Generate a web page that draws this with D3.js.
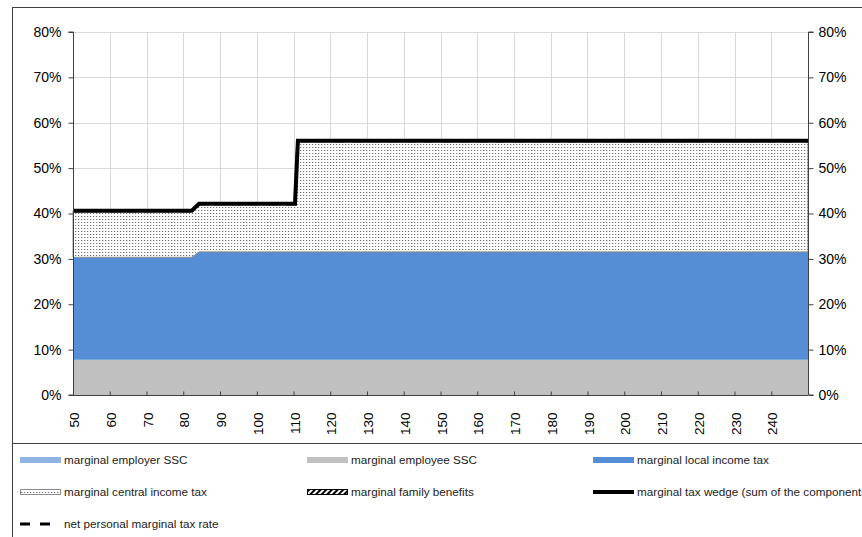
<!DOCTYPE html>
<html><head><meta charset="utf-8">
<script src="https://cdn.jsdelivr.net/npm/d3@7"></script>
<style>body{margin:0;background:#fff;}svg{display:block;font-family:"Liberation Sans",Arial,sans-serif;}</style>
</head><body>
<svg id="c" width="862" height="537"></svg>
<script>
// Data (percent) at income levels (% of average wage)
const income          = [50, 82.3, 84.3, 110.4, 111.2, 250];
const employerSSC     = [0, 0, 0, 0, 0, 0];
const employeeSSC     = [7.75, 7.75, 7.75, 7.75, 7.75, 7.75];
const localIncomeTax  = [22.6, 22.6, 23.8, 23.8, 23.8, 23.8];
const centralIncomeTax= [10.25, 10.25, 10.6, 10.6, 24.5, 24.5];
const familyBenefits  = [0, 0, 0, 0, 0, 0];
const taxWedge        = [40.6, 40.6, 42.15, 42.15, 56.05, 56.05];
const netPersonal     = [40.6, 40.6, 42.15, 42.15, 56.05, 56.05];
const xTicks = [50,60,70,80,90,100,110,120,130,140,150,160,170,180,190,200,210,220,230,240];
const yTicks = [0,10,20,30,40,50,60,70,80];
const legendLabels = ["marginal employer SSC","marginal employee SSC","marginal local income tax",
  "marginal central income tax","marginal family benefits","marginal tax wedge (sum of the components)",
  "net personal marginal tax rate"];

const svg = d3.select("#c");
const x = d3.scaleLinear().domain([50,250]).range([73,808]);
const y = d3.scaleLinear().domain([0,80]).range([395,32]);

const defs = svg.append("defs");
const pat = defs.append("pattern").attr("id","dots").attr("patternUnits","userSpaceOnUse")
  .attr("width",3).attr("height",3);
pat.append("rect").attr("width",3).attr("height",3).attr("fill","#fff");
pat.append("rect").attr("x",0).attr("y",0).attr("width",1).attr("height",1).attr("fill","#777");
pat.append("rect").attr("x",1).attr("y",0).attr("width",1).attr("height",1).attr("fill","#ddd");
const hatch = defs.append("pattern").attr("id","hatch").attr("patternUnits","userSpaceOnUse")
  .attr("width",4).attr("height",4).attr("patternTransform","rotate(45)");
hatch.append("rect").attr("width",4).attr("height",4).attr("fill","#fff");
hatch.append("rect").attr("width",2).attr("height",4).attr("fill","#000");

// frame
svg.append("line").attr("x1",12).attr("x2",862).attr("y1",7.5).attr("y2",7.5).attr("stroke","#404040");
svg.append("line").attr("x1",12.5).attr("x2",12.5).attr("y1",7).attr("y2",537).attr("stroke","#404040");
svg.append("line").attr("x1",12).attr("x2",862).attr("y1",443.5).attr("y2",443.5).attr("stroke","#404040");

// gridlines
const g = svg.append("g");
g.selectAll(".vg").data(xTicks.slice(1)).enter().append("line")
  .attr("x1",d=>Math.round(x(d))+0.5).attr("x2",d=>Math.round(x(d))+0.5)
  .attr("y1",y(80)).attr("y2",y(0)).attr("stroke","#d9d9d9");
g.selectAll(".hg").data(yTicks.slice(1)).enter().append("line")
  .attr("x1",x(50)).attr("x2",x(250)).attr("y1",d=>Math.round(y(d))+0.5).attr("y2",d=>Math.round(y(d))+0.5)
  .attr("stroke","#d9d9d9");

// stacked areas
const rows = income.map((v,i)=>({inc:v, employer:employerSSC[i], employee:employeeSSC[i],
  local:localIncomeTax[i], central:centralIncomeTax[i], family:familyBenefits[i]}));
const keys = ["employer","employee","local","central","family"];
const stack = d3.stack().keys(keys)(rows);
const fills = {employer:"#8eb4e3", employee:"#c0c0c0", local:"#558ed5", central:"url(#dots)", family:"url(#hatch)"};
const area = d3.area().x(d=>x(d.data.inc)).y0(d=>y(d[0])).y1(d=>y(d[1]));
stack.forEach(s=>{
  const tot = d3.sum(s,d=>d[1]-d[0]);
  if(tot<=0) return;
  svg.append("path").datum(s).attr("d",area).attr("fill",fills[s.key])
    .attr("stroke", s.key==="central" ? "#8c8c8c" : "none").attr("stroke-width",1);
});

// lines
const line = d3.line().x((d,i)=>x(income[i])).y(d=>y(d));
svg.append("path").datum(netPersonal).attr("d",line).attr("fill","none").attr("stroke","#000")
  .attr("stroke-width",3).attr("stroke-dasharray","10,8");
svg.append("path").datum(taxWedge).attr("d",line).attr("fill","none").attr("stroke","#000")
  .attr("stroke-width",4).attr("stroke-linejoin","miter");

// axes
const fmt = d=>d+"%";
const yl = svg.append("g").attr("transform","translate(73.5,0)")
  .call(d3.axisLeft(y).tickValues(yTicks).tickFormat(fmt).tickSize(5).tickPadding(7));
const yr = svg.append("g").attr("transform","translate(808.5,0)")
  .call(d3.axisRight(y).tickValues(yTicks).tickFormat(fmt).tickSize(5).tickPadding(5));
const xa = svg.append("g").attr("transform","translate(0,395.5)")
  .call(d3.axisBottom(x).tickValues(xTicks).tickSize(-4).tickFormat(d=>d).tickSizeOuter(0));
[yl,yr,xa].forEach(a=>{
  a.selectAll("path,line").attr("stroke","#404040");
  a.selectAll("text").attr("fill","#000").style("font-size","14px").style("font-family","Liberation Sans, Arial, sans-serif");
});
xa.selectAll("text").style("font-size","13.5px");
yl.select(".domain").attr("d","M-5,"+y(80)+"H0V"+y(0)+"H-5");
yr.select(".domain").attr("d","M5,"+y(80)+"H0V"+y(0)+"H5");
xa.select(".domain").attr("d","M"+x(50)+",0H"+x(250));
xa.selectAll("text").attr("transform","rotate(-90)").attr("x",-17).attr("y",1)
  .attr("dy","0.35em").attr("text-anchor","end");

// legend
const lg = svg.append("g").style("font-size","11.7px").attr("fill","#222");
const cols = [20, 307, 593], rowsY = [460, 492, 524];
legendLabels.forEach((lab,i)=>{
  const cx = cols[i%3], cy = rowsY[Math.floor(i/3)];
  const item = lg.append("g");
  if(i<3){
    item.append("rect").attr("x",cx).attr("y",cy-3).attr("width",41).attr("height",6)
      .attr("fill",[ "#8eb4e3","#c0c0c0","#558ed5"][i]);
  } else if(i===3){
    item.append("rect").attr("x",cx+0.5).attr("y",cy-2.5).attr("width",40).attr("height",5)
      .attr("fill","url(#dots)").attr("stroke","#8c8c8c");
  } else if(i===4){
    item.append("rect").attr("x",cx+0.5).attr("y",cy-2.5).attr("width",40).attr("height",5)
      .attr("fill","url(#hatch)").attr("stroke","#000");
  } else if(i===5){
    item.append("line").attr("x1",cx).attr("x2",cx+41).attr("y1",cy).attr("y2",cy)
      .attr("stroke","#000").attr("stroke-width",4);
  } else {
    item.append("line").attr("x1",cx).attr("x2",cx+31).attr("y1",cy).attr("y2",cy)
      .attr("stroke","#000").attr("stroke-width",3).attr("stroke-dasharray","10,10");
  }
  item.append("text").attr("x", cx+44).attr("y",cy).attr("dy","0.35em")
    .attr("fill","#222").text(lab);
});
</script>
</body></html>
